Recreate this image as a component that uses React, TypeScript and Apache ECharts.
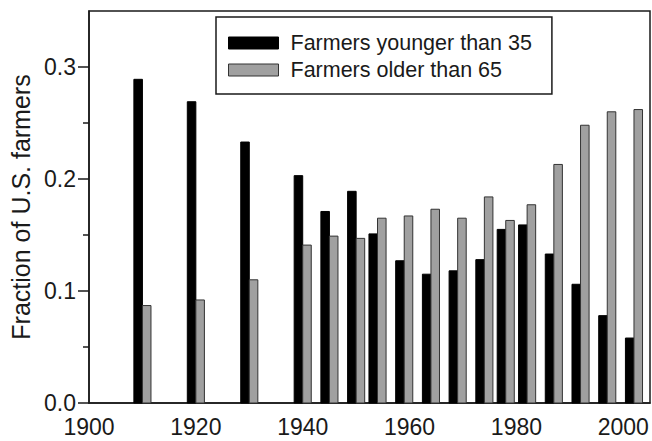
import React, { useEffect, useRef } from "react";
import * as echarts from "echarts";

const years = [1910, 1920, 1930, 1940, 1945, 1950, 1954, 1959, 1964, 1969, 1974, 1978, 1982, 1987, 1992, 1997, 2002];
const youngShare = [0.289, 0.269, 0.233, 0.203, 0.171, 0.189, 0.151, 0.127, 0.115, 0.118, 0.128, 0.155, 0.159, 0.133, 0.106, 0.078, 0.058];
const oldShare = [0.087, 0.092, 0.110, 0.141, 0.149, 0.147, 0.165, 0.167, 0.173, 0.165, 0.184, 0.163, 0.177, 0.213, 0.248, 0.260, 0.262];
const yMajorTicks = [0, 0.1, 0.2, 0.3];
const yMinorTicks = [0.05, 0.15, 0.25];
const seriesNames = ["Farmers younger than 35", "Farmers older than 65"];

const FONT = "'Liberation Sans', Arial, Helvetica, sans-serif";
const INK = "#1a1a1a";
const BAR_YEARS = 1.6;

function makeRender(side: number, fill: string, stroke: string) {
  return (params: any, api: any) => {
    const x = api.value(0);
    const y = api.value(1);
    const base = api.coord([x, 0]);
    const top = api.coord([x, y]);
    const w = api.size([BAR_YEARS, 0])[0];
    const left = side < 0 ? top[0] - w : top[0];
    return {
      type: "rect",
      shape: { x: left, y: top[1], width: w, height: base[1] - top[1] },
      style: { fill, stroke, lineWidth: 1 },
    };
  };
}

export default function App() {
  const ref = useRef<HTMLDivElement>(null);
  useEffect(() => {
    if (!ref.current) return;
    const chart = echarts.init(ref.current, undefined, { renderer: "svg" });
    const youngData = years.map((yr, i) => [yr, youngShare[i]]);
    const oldData = years.map((yr, i) => [yr, oldShare[i]]);
    chart.setOption({
      animation: false,
      backgroundColor: "#fff",
      textStyle: { fontFamily: FONT, color: INK },
      grid: {
        left: 89,
        right: 2,
        top: 11,
        bottom: 38,
        show: true,
        borderColor: INK,
        borderWidth: 1.5,
        backgroundColor: "transparent",
      },
      legend: {
        left: 216,
        top: 17,
        orient: "vertical",
        padding: [15, 20, 13, 12],
        itemGap: 5,
        itemWidth: 50,
        itemHeight: 12,
        borderColor: INK,
        borderWidth: 1.5,
        textStyle: { fontFamily: FONT, fontSize: 21.5, color: INK, padding: [0, 0, 0, 7] },
        data: [
          { name: seriesNames[0], icon: "rect", itemStyle: { color: "#000", borderColor: "#000", borderWidth: 1 } },
          { name: seriesNames[1], icon: "rect", itemStyle: { color: "#a0a0a0", borderColor: "#333", borderWidth: 1 } },
        ],
      },
      xAxis: {
        type: "value",
        min: 1900,
        max: 2005,
        interval: 20,
        splitLine: { show: false },
        axisLine: { show: true, lineStyle: { color: INK, width: 1.5 } },
        axisTick: { show: false },
        axisLabel: {
          fontFamily: FONT,
          fontSize: 23,
          color: INK,
          margin: 12,
          showMaxLabel: false,
          formatter: (v: number) => String(v),
        },
      },
      yAxis: [
        {
          type: "value",
          min: 0,
          max: 0.35,
          position: "left",
          splitLine: { show: false },
          axisLine: { show: true, lineStyle: { color: INK, width: 1.5 } },
          axisTick: {
            show: true,
            inside: false,
            length: 11,
            customValues: yMajorTicks,
            lineStyle: { color: INK, width: 1.5 },
          },
          axisLabel: {
            fontFamily: FONT,
            fontSize: 23,
            color: INK,
            margin: 13,
            customValues: yMajorTicks,
            formatter: (v: number) => v.toFixed(1),
          },
          name: "Fraction of U.S. farmers",
          nameLocation: "middle",
          nameGap: 54,
          nameRotate: 90,
          nameTextStyle: { fontFamily: FONT, fontSize: 25, color: INK },
        },
        {
          type: "value",
          min: 0,
          max: 0.35,
          position: "left",
          splitLine: { show: false },
          axisLine: { show: false },
          axisTick: {
            show: true,
            inside: false,
            length: 6,
            customValues: yMinorTicks,
            lineStyle: { color: INK, width: 1.5 },
          },
          axisLabel: { show: false },
        },
      ],
      series: [
        {
          name: seriesNames[0],
          type: "custom",
          renderItem: makeRender(-1, "#000", "#000"),
          itemStyle: { color: "#000" },
          encode: { x: 0, y: 1 },
          data: youngData,
          z: 3,
        },
        {
          name: seriesNames[1],
          type: "custom",
          renderItem: makeRender(1, "#a0a0a0", "#333"),
          itemStyle: { color: "#a0a0a0" },
          encode: { x: 0, y: 1 },
          data: oldData,
          z: 3,
        },
      ],
    });
    return () => chart.dispose();
  }, []);
  return (
    <div
      ref={ref}
      style={{ position: "fixed", left: 0, top: 0, width: 652, height: 441, background: "#fff" }}
    />
  );
}
